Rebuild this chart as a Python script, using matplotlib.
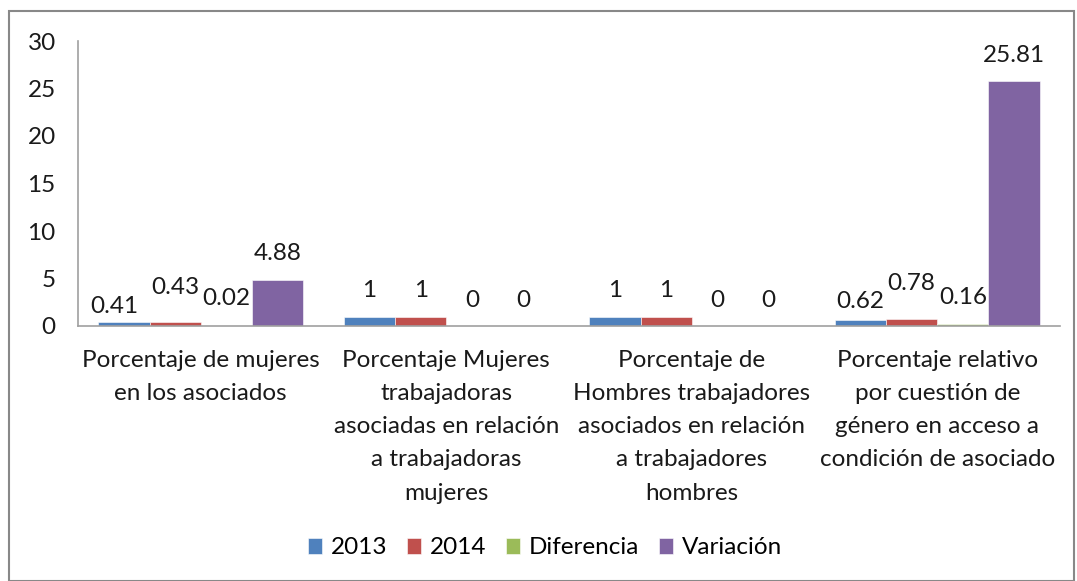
import matplotlib
matplotlib.use("Agg")
import matplotlib.pyplot as plt
from matplotlib.patches import Rectangle
import numpy as np

plt.rcParams['font.family'] = ['Lato', 'DejaVu Sans']

categories = [
    "Porcentaje de mujeres\nen los asociados",
    "Porcentaje Mujeres\ntrabajadoras\nasociadas en relación\na trabajadoras\nmujeres",
    "Porcentaje de\nHombres trabajadores\nasociados en relación\na trabajadores\nhombres",
    "Porcentaje relativo\npor cuestión de\ngénero en acceso a\ncondición de asociado",
]
series_names = ["2013", "2014", "Diferencia", "Variación"]
v2013 = [0.41, 1, 1, 0.62]
v2014 = [0.43, 1, 1, 0.78]
vdif = [0.02, 0, 0, 0.16]
vvar = [4.88, 0, 0, 25.81]
labels2013 = ["0.41", "1", "1", "0.62"]
labels2014 = ["0.43", "1", "1", "0.78"]
labelsdif = ["0.02", "0", "0", "0.16"]
labelsvar = ["4.88", "0", "0", "25.81"]
yticks = [0, 5, 10, 15, 20, 25, 30]

colors = ["#4F81BD", "#C0504D", "#9BBB59", "#8064A2"]
all_vals = [v2013, v2014, vdif, vvar]
all_labels = [labels2013, labels2014, labelsdif, labelsvar]
# label offsets (points) mimicking Excel's overlap avoidance
dy = [[4, 11, 11, 6], [17, 11, 11, 18], [12, 11, 11, 12], [11, 11, 11, 11]]
dx = [[-7, 0, 0, 0], [0, 0, 0, 0], [0, 0, 0, 0], [0, 0, 0, 0]]

FS = 17.5
W, H = 1077, 581
fig = plt.figure(figsize=(W / 100, H / 100), dpi=100)
ax = fig.add_axes([78 / W, 1 - 326 / H, (1060 - 78) / W, (326 - 41) / H])

x = np.arange(len(categories))
bw = 1 / (4 + 0.8)
for i, (vals, labs) in enumerate(zip(all_vals, all_labels)):
    pos = x - 2 * bw + bw / 2 + i * bw
    bars = ax.bar(pos, vals, width=bw, color=colors[i], label=series_names[i],
                  edgecolor='white', linewidth=0.4)
    for j, (b, lab) in enumerate(zip(bars, labs)):
        ax.annotate(lab, (b.get_x() + b.get_width() / 2, b.get_height()),
                    xytext=(dx[i][j], dy[i][j]), textcoords='offset points',
                    ha='center', va='bottom', fontsize=FS, color='#1a1a1a')

ax.set_xlim(-0.5, len(categories) - 0.5)
ax.set_ylim(0, 30)
ax.set_yticks(yticks)
ax.set_yticklabels([str(t) for t in yticks], fontsize=FS, color='#1a1a1a')
ax.set_xticks(x)
ax.set_xticklabels(categories, fontsize=FS, color='#1a1a1a', linespacing=1.72, va='top')
ax.tick_params(axis='both', length=0)
ax.tick_params(axis='y', pad=16)
ax.tick_params(axis='x', pad=17)
for s in ['top', 'right']:
    ax.spines[s].set_visible(False)
for s in ['left', 'bottom']:
    ax.spines[s].set_color('#A0A0A0')
    ax.spines[s].set_linewidth(1.2)

fig.legend(loc='center', bbox_to_anchor=(545 / W, 1 - 548 / H), ncol=4, frameon=False,
           fontsize=FS, handlelength=0.6, handleheight=0.6, handletextpad=0.35,
           columnspacing=0.8)

fig.patches.append(Rectangle((9 / W, 0), (1074 - 9) / W, 1 - 11 / H, transform=fig.transFigure,
                             fill=False, edgecolor='#888888', linewidth=1.5))

fig.savefig("out.png", dpi=100)
